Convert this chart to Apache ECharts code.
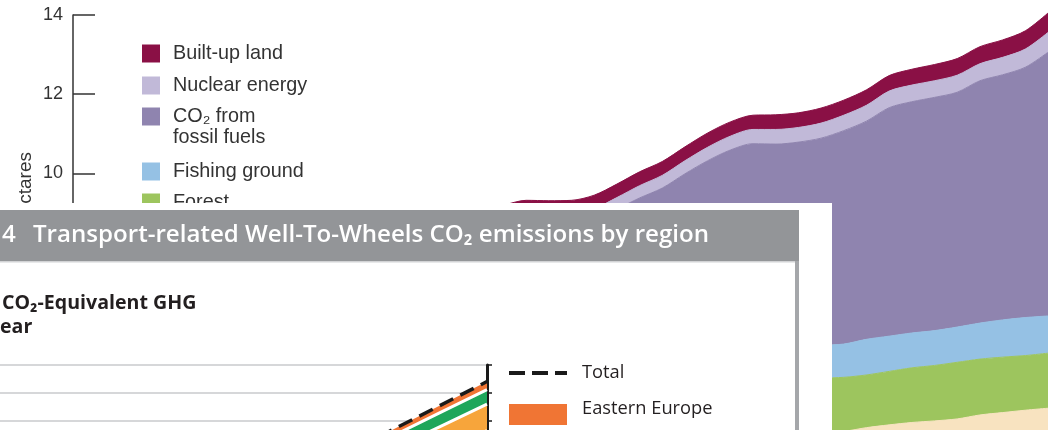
<!DOCTYPE html>
<html>
<head>
<meta charset="utf-8">
<script src="https://cdn.jsdelivr.net/npm/echarts@6/dist/echarts.min.js"></script>
<style>html,body{margin:0;padding:0;background:#fff}#c{width:1048px;height:430px}</style>
</head>
<body>
<div id="c"></div>
<script>
// ---------- Background chart: Ecological Footprint by component (billion global hectares) ----------
const years = ['1961','1962','1963','1964','1965','1966','1967','1968','1969','1970',
  '1971','1972','1973','1974','1975','1976','1977','1978','1979','1980',
  '1981','1982','1983','1984','1985','1986','1987','1988','1989','1990',
  '1991','1992','1993','1994','1995','1996','1997','1998','1999','2000',
  '2001','2002','2003'];
const cropland = [2.00,2.02,2.04,2.07,2.09,2.12,2.14,2.17,2.19,2.22, 2.24,2.26,2.29,2.30,2.32,2.34,2.36,2.38,2.40,2.41,
  2.42,2.43,2.44,2.46,2.47,2.48,2.49,2.51,2.53,2.55, 2.56,2.57,2.58, 2.59,2.67,2.73,2.78,2.82,2.86,2.95,3.00,3.05,3.10];
const grazing = [0.62,0.63,0.64,0.65,0.66,0.67,0.68,0.69,0.70,0.71, 0.72,0.73,0.74,0.75,0.76,0.77,0.78,0.79,0.80,0.81,
  0.82,0.82,0.83,0.84,0.85,0.85,0.86,0.87,0.88,0.88, 0.89,0.89,0.90, 0.90,0.91,0.92,0.93,0.93,0.94,0.95,0.96,0.97,0.97];
const forest = [1.00,1.01,1.02,1.04,1.05,1.06,1.08,1.09,1.10,1.12, 1.13,1.14,1.16,1.17,1.18,1.19,1.21,1.22,1.23,1.24,
  1.24,1.25,1.26,1.27,1.28,1.29,1.30,1.31,1.32,1.33, 1.33,1.34,1.35, 1.36,1.33,1.35,1.38,1.40,1.43,1.41,1.40,1.38,1.39];
const fishing = [0.30,0.32,0.34,0.36,0.38,0.40,0.42,0.44,0.46,0.48, 0.50,0.51,0.52,0.54,0.56,0.58,0.60,0.62,0.64,0.66,
  0.67,0.68,0.70,0.72,0.73,0.74,0.76,0.77,0.78,0.80, 0.81,0.82,0.83, 0.84,0.90,0.89,0.88,0.88,0.89,0.91,0.94,0.96,0.94];
const co2 = [0.98,1.12,1.25,1.46,1.59,1.82,1.93,2.16,2.38,2.70, 2.82,3.05,3.37,3.30,3.21,3.43,3.53,3.64,3.65,3.69,
  3.62,3.56,3.61,3.81,4.05,4.27,4.58,4.86,5.08,5.19, 5.15,5.17,5.23, 5.39,5.51,5.77,5.84,5.89,5.93,6.12,6.19,6.32,6.66];
const nuclear = [0,0,0,0.01,0.01,0.01,0.02,0.02,0.03,0.03, 0.04,0.05,0.06,0.07,0.09,0.10,0.12,0.14,0.16,0.18,
  0.21,0.24,0.27,0.29,0.31,0.32,0.33,0.34,0.35,0.36, 0.37,0.37,0.38, 0.39,0.40,0.42,0.42,0.42,0.43,0.43,0.44,0.46,0.50];
const builtUp = [0.20,0.20,0.21,0.21,0.22,0.22,0.23,0.23,0.24,0.24, 0.25,0.26,0.26,0.27,0.28,0.29,0.30,0.31,0.32,0.33,
  0.33,0.34,0.34,0.34,0.35,0.35,0.35,0.36,0.36,0.36, 0.37,0.37,0.38, 0.38,0.39,0.39,0.40,0.41,0.42,0.43,0.44,0.46,0.49];
const fpTicks = [0, 14, 2]; // min, max, interval

// ---------- Overlay chart: Transport-related Well-To-Wheels CO2 emissions by region ----------
const wtwYears = ['2000','2005','2010','2015','2020','2025','2030','2035','2040','2045','2050'];
const otherRegions = [5.18,5.67,6.25,6.89,7.51,8.12,8.79,9.60,10.21,11.75,13.28];
const middleEast = [0.55,0.62,0.70,0.80,0.92,1.05,1.20,1.40,1.60,1.75,1.90];
const formerSovietUnion = [0.62,0.65,0.68,0.72,0.76,0.80,0.85,0.90,0.95,1.00,1.05];
const easternEurope = [0.25,0.26,0.27,0.29,0.31,0.33,0.36,0.40,0.45,0.51,0.58];
const totalWtw = [6.6,7.2,7.9,8.7,9.5,10.3,11.2,12.3,13.21,15.01,16.81];
const wtwTicks = [0, 18, 2];

// ---------- text fitting helper ----------
const ctx = document.createElement('canvas').getContext('2d');
function fit(text, weight, family, target) {
  ctx.font = weight + ' 100px ' + family;
  return +(100 * target / ctx.measureText(text).width).toFixed(1);
}
const BG_FONT = 'Liberation Sans';
const OV_FONT = 'Open Sans';
const bgLegendSize = fit('Nuclear energy', 'normal', '"Liberation Sans"', 134);
const yLabelSize = fit('14', 'normal', '"Liberation Sans"', 20);
const titleSize = fit('Transport-related Well-To-Wheels CO₂ emissions by region', '600', '"Open Sans"', 677);
const subSize = fit('CO₂-Equivalent GHG', 'bold', '"Open Sans"', 194);
const ovLegendSize = fit('Eastern Europe', 'normal', '"Open Sans"', 131);

const chart = echarts.init(document.getElementById('c'), null, {renderer: 'canvas'});

function fpArea(name, data, color) {
  return {
    type: 'line', name, data, stack: 'fp', xAxisIndex: 0, yAxisIndex: 0,
    symbol: 'none', smooth: 0.3, clip: false, z: 2,
    lineStyle: {width: 1, color}, itemStyle: {color}, areaStyle: {color, opacity: 1},
    emphasis: {disabled: true}, silent: true
  };
}
function wtwArea(name, data, color, sepWidth, z) {
  return {
    type: 'line', name, data, stack: 'wtw', xAxisIndex: 1, yAxisIndex: 1,
    symbol: 'none', z,
    lineStyle: {width: sepWidth, color: '#ffffff'}, itemStyle: {color}, areaStyle: {color, opacity: 1},
    emphasis: {disabled: true}, silent: true
  };
}

const bgLegendText = {fontFamily: BG_FONT, fontSize: bgLegendSize, color: '#333333', lineHeight: 21, padding: [0, 0, 0, 8]};
const bgLegendBase = {orient: 'vertical', left: 142, padding: 0, itemWidth: 18, itemHeight: 18, icon: 'rect',
  height: 120, itemStyle: {borderWidth: 0}, selectedMode: false, z: 4};

const option = {
  animation: false,
  backgroundColor: '#ffffff',
  grid: [
    {top: 15, left: 95, width: 953, height: 554.4, containLabel: false, outerBoundsMode: 'none'},
    {top: 365, left: -3, width: 490, height: 250.2, containLabel: false, outerBoundsMode: 'none'}
  ],
  xAxis: [
    {gridIndex: 0, type: 'category', data: years, boundaryGap: false, show: false},
    {gridIndex: 1, type: 'category', data: wtwYears, boundaryGap: false, show: false}
  ],
  yAxis: [
    {gridIndex: 0, type: 'value', min: fpTicks[0], max: fpTicks[1], interval: fpTicks[2], offset: 22,
     axisLine: {show: true, lineStyle: {color: '#333333', width: 1.5}},
     axisTick: {show: true, inside: true, length: 22, lineStyle: {color: '#333333', width: 1.5}},
     axisLabel: {margin: 10, color: '#333333', fontSize: yLabelSize, fontFamily: BG_FONT,
                 formatter: v => (v >= 10 ? String(v) : '')},
     splitLine: {show: false}},
    {gridIndex: 1, type: 'value', position: 'right', min: wtwTicks[0], max: wtwTicks[1], interval: wtwTicks[2], z: 12,
     axisLine: {show: true, lineStyle: {color: '#1a1a1a', width: 3}},
     axisTick: {show: true, inside: false, length: 5, lineStyle: {color: '#1a1a1a', width: 1.5}},
     axisLabel: {show: false},
     splitLine: {show: true, lineStyle: {color: '#C9CACC', width: 1.5}}}
  ],
  legend: [
    Object.assign({}, bgLegendBase, {id: 'lgA', top: 43, itemGap: 11,
      data: ['Built-up land', 'Nuclear energy'], textStyle: bgLegendText}),
    Object.assign({}, bgLegendBase, {id: 'lgC', top: 106, itemGap: 10, itemHeight: 39,
      icon: 'path://M0,0h18v18h-18zM0,39',
      data: ['CO₂ from fossil fuels'], formatter: () => 'CO₂ from\nfossil fuels',
      textStyle: bgLegendText}),
    Object.assign({}, bgLegendBase, {id: 'lgB', top: 161, itemGap: 10,
      data: ['Fishing ground', 'Forest'], textStyle: bgLegendText}),
    {id: 'lgD', orient: 'vertical', left: 509, top: 357, height: 120, padding: 0, itemGap: 4,
     itemWidth: 58, itemHeight: 32, selectedMode: false, z: 14,
     itemStyle: {borderWidth: 0}, symbolKeepAspect: true,
     data: [
       {name: 'Total', icon: 'path://M0,0M0,14h16v4h-16zM23,14h16v4h-16zM46,14h12v4h-12zM0,32'},
       {name: 'Eastern Europe', icon: 'path://M0,0M0,11h58v21h-58z'}
     ],
     textStyle: {fontFamily: OV_FONT, fontSize: ovLegendSize, color: '#231F20', lineHeight: 21, padding: [0, 0, 0, 10]}}
  ],
  graphic: {
    elements: [
      {type: 'text', z: 1, x: 26, y: 152, rotation: Math.PI / 2,
       style: {text: 'Billion 2003 global hectares', fontFamily: BG_FONT, fontSize: 19, fill: '#333333',
               align: 'right', verticalAlign: 'middle'}},
      {type: 'rect', z: 10, shape: {x: 0, y: 203, width: 832, height: 227}, style: {fill: '#ffffff'}},
      {type: 'rect', z: 11, shape: {x: 0, y: 210, width: 799, height: 51}, style: {fill: '#939598'}},
      {type: 'rect', z: 11, shape: {x: 0, y: 261, width: 795, height: 1.5}, style: {fill: '#D2D3D5'}},
      {type: 'rect', z: 11, shape: {x: 795, y: 261, width: 4, height: 169}, style: {fill: '#A5A7AA'}},
      {type: 'text', z: 12, x: 2, y: 235,
       style: {text: '{n|4}Transport-related Well-To-Wheels CO₂ emissions by region',
               fontFamily: OV_FONT, fontWeight: 600, fontSize: titleSize, fill: '#ffffff', verticalAlign: 'middle',
               rich: {n: {width: 31, fontFamily: OV_FONT, fontWeight: 600, fontSize: titleSize, fill: '#ffffff'}}}},
      {type: 'text', z: 12, x: 2, y: 303,
       style: {text: 'CO₂-Equivalent GHG', fontFamily: OV_FONT, fontWeight: 'bold', fontSize: subSize,
               fill: '#231F20', verticalAlign: 'middle'}},
      {type: 'text', z: 12, x: 0, y: 327,
       style: {text: 'ear', fontFamily: OV_FONT, fontWeight: 'bold', fontSize: subSize,
               fill: '#231F20', verticalAlign: 'middle'}}
    ]
  },
  series: [
    fpArea('Cropland', cropland, '#F2C46D'),
    fpArea('Grazing land', grazing, '#F8E3C0'),
    fpArea('Forest', forest, '#9DC55E'),
    fpArea('Fishing ground', fishing, '#95C1E4'),
    fpArea('CO₂ from fossil fuels', co2, '#8F84AF'),
    fpArea('Nuclear energy', nuclear, '#C1B9D8'),
    fpArea('Built-up land', builtUp, '#8A1045'),
    wtwArea('Other regions', otherRegions, '#5B7DB8', 3, 13),
    wtwArea('Middle East', middleEast, '#F7A53B', 3, 13),
    wtwArea('Former Soviet Union', formerSovietUnion, '#1EA65A', 3, 13),
    wtwArea('Eastern Europe', easternEurope, '#F07534', 0, 13),
    {type: 'line', name: 'Total', data: totalWtw, xAxisIndex: 1, yAxisIndex: 1, symbol: 'none', z: 15,
     lineStyle: {color: '#1a1a1a', width: 3.5, type: [15, 8]}, itemStyle: {color: '#1a1a1a'},
     emphasis: {disabled: true}, silent: true}
  ]
};
chart.setOption(option);
</script>
</body>
</html>
